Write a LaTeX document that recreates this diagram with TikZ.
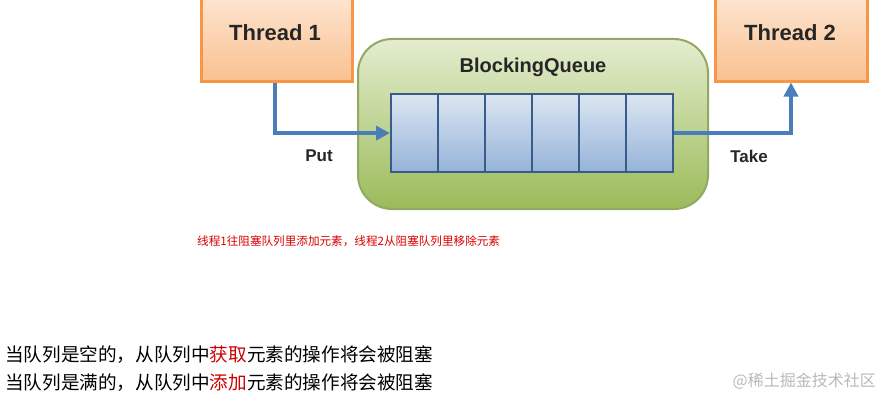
\documentclass[tikz,border=0pt]{standalone}
\usepackage{fontspec}
\usetikzlibrary{arrows.meta}
\setmainfont{Liberation Sans}
\newfontfamily\cjk{Noto Sans CJK SC}
\definecolor{orb}{HTML}{F79646}
\definecolor{ort}{HTML}{FDE4CF}
\definecolor{orm}{HTML}{FAC090}
\definecolor{grb}{HTML}{77933C}
\definecolor{grt}{HTML}{E4EDCF}
\definecolor{grm}{HTML}{9BBB59}
\definecolor{blb}{HTML}{385D8A}
\definecolor{blt}{HTML}{DCE6F2}
\definecolor{blm}{HTML}{95B3D7}
\definecolor{arc}{HTML}{4A7EBB}
\begin{document}
\begin{tikzpicture}[x=1pt,y=-1pt,
 thr/.style={draw=orb,line width=2.5pt,top color=ort,bottom color=orm,inner sep=0},
 cell/.style={draw=blb,line width=2.2pt,top color=blt,bottom color=blm,minimum width=47pt,minimum height=78pt,inner sep=0},
 arr/.style={draw=arc,line width=3.5pt,-{Triangle[length=14pt,width=14pt]}},
 lbl/.style={font=\bfseries\fontsize{17}{20}\selectfont,text=black!85}]
\useasboundingbox (0,0) rectangle (886,404);
\node[thr,minimum width=151pt,minimum height=83pt,anchor=north west] (t1) at (200,-3) {};
\node[lbl,font=\bfseries\fontsize{22}{25}\selectfont] at (275,33) {Thread 1};
\node[thr,minimum width=152pt,minimum height=83pt,anchor=north west] (t2) at (714,-3) {};
\node[lbl,font=\bfseries\fontsize{22}{25}\selectfont] at (790,33) {Thread 2};
\node[draw=grb!80,line width=2pt,rounded corners=34pt,top color=grt,bottom color=grm,minimum width=350pt,minimum height=170pt,anchor=north west] (bq) at (357,38) {};
\node[lbl,font=\bfseries\fontsize{20}{23}\selectfont] (bqt) at (533,67) {BlockingQueue};
\foreach \i in {0,...,5}{\node[cell,anchor=north west] (c\i) at (390+47*\i,93) {};}
\coordinate (pin) at (c0.west);
\coordinate (pout) at (c5.east);
\draw[arr] (t1.south -| 275,0) |- (pin);
\draw[arr] (pout) -| (t2.south -| 791,0);
\node[lbl] (put) at (319,156) {Put};
\node[lbl] (take) at (749,156) {Take};
\node[text=red!85!black,font=\cjk\fontsize{11.6}{13}\selectfont,anchor=west,inner sep=0] (note) at (197,241) {线程1往阻塞队列里添加元素，线程2从阻塞队列里移除元素};
\node[font=\cjk\fontsize{18.6}{21}\selectfont,anchor=west,inner sep=0] (l1) at (5,355) {当队列是空的，从队列中\textcolor{red!80!black}{获取}元素的操作将会被阻塞};
\node[font=\cjk\fontsize{18.6}{21}\selectfont,anchor=west,inner sep=0] (l2) at (5,383) {当队列是满的，从队列中\textcolor{red!80!black}{添加}元素的操作将会被阻塞};
\node[text=gray!55,font=\cjk\fontsize{16}{18}\selectfont,anchor=east,inner sep=0] (wm) at (876,381) {@稀土掘金技术社区};
\end{tikzpicture}
\end{document}
